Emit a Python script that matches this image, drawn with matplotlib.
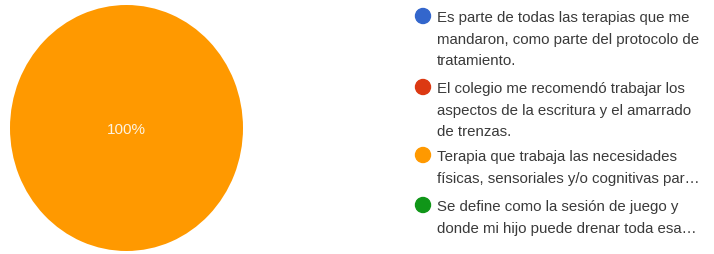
import matplotlib.pyplot as plt
from matplotlib.patches import Ellipse

# data
labels = [
    "Es parte de todas las terapias que me\nmandaron, como parte del protocolo de\ntratamiento.",
    "El colegio me recomendó trabajar los\naspectos de la escritura y el amarrado\nde trenzas.",
    "Terapia que trabaja las necesidades\nfísicas, sensoriales y/o cognitivas par…",
    "Se define como la sesión de juego y\ndonde mi hijo puede drenar toda esa…",
]
values = [0, 0, 100, 0]
colors = ["#3366cc", "#dc3912", "#ff9900", "#109618"]

plt.rcParams['font.family'] = ['Liberation Sans', 'DejaVu Sans']

W, H = 714, 255
fig = plt.figure(figsize=(W / 100, H / 100), dpi=100)

# pie (slightly stretched, like the source screenshot)
ax = fig.add_axes([10 / W, 3 / H, 233 / W, 246 / H])
shown = [(v, c) for v, c in zip(values, colors) if v > 0]
ax.pie([v for v, _ in shown], colors=[c for _, c in shown], startangle=90,
       counterclock=False, wedgeprops=dict(linewidth=0))
ax.set_aspect('auto')
ax.set_xlim(-1, 1)
ax.set_ylim(-1, 1)
total = sum(values)
for v in values:
    if v == total:
        ax.text(0, -0.01, f"{v / total:.0%}", ha='center', va='center',
                color='#fdf3e0', fontsize=11)

# legend
first_line_y = [17, 88, 156, 206]
for lab, col, y in zip(labels, colors, first_line_y):
    fig.add_artist(Ellipse((423 / W, 1 - y / H), 15 / W, 15 / H,
                           transform=fig.transFigure, color=col))
    fig.text(437 / W, 1 - (y - 6) / H, lab, ha='left', va='top', fontsize=10.8,
             color='#3a3a3a', linespacing=1.7)

fig.savefig("out.png", dpi=100)
